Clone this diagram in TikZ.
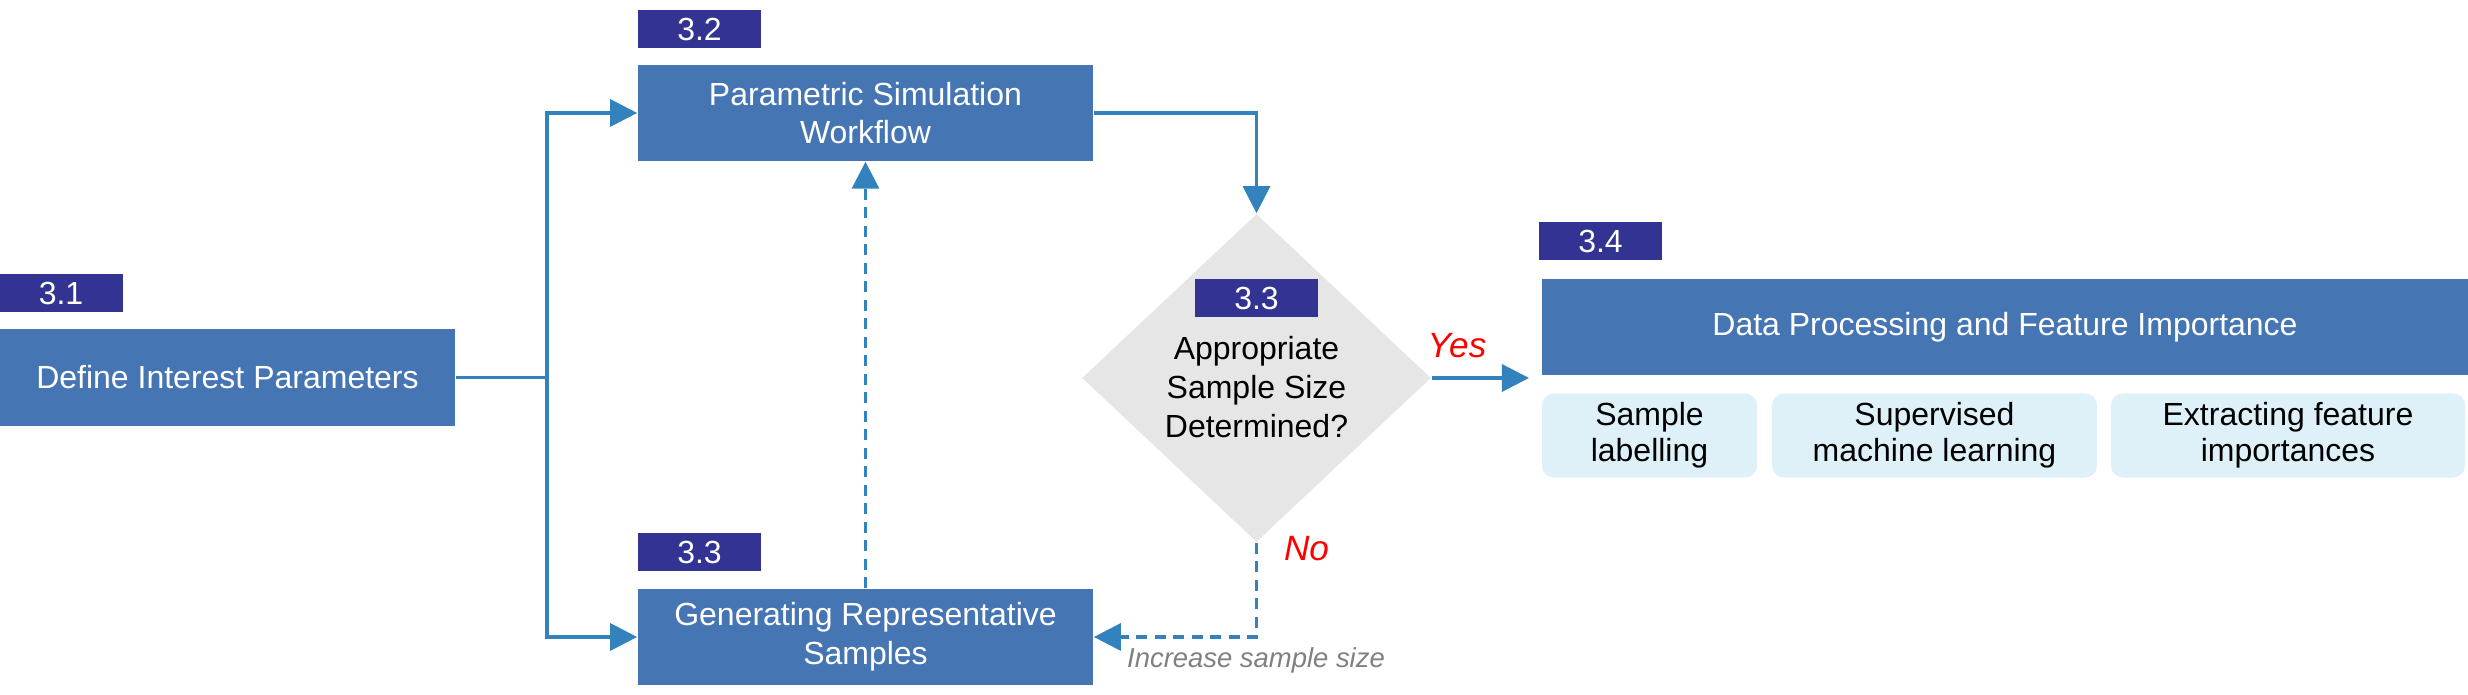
\documentclass[tikz,border=0pt]{standalone}
\usepackage{fontspec}
\setmainfont{Liberation Sans}
\usetikzlibrary{arrows.meta,shapes.geometric}

\definecolor{boxblue}{RGB}{70,117,180}
\definecolor{tagblue}{RGB}{51,51,147}
\definecolor{linkblue}{RGB}{49,130,189}
\definecolor{diagray}{RGB}{230,230,230}
\definecolor{subcyan}{RGB}{222,241,248}
\definecolor{notegray}{RGB}{128,128,128}

\tikzset{
  tag/.style={fill=tagblue, text=white, minimum width=1.23cm, minimum height=0.38cm, inner sep=0pt},
  stagebox/.style={fill=boxblue, text=white, align=center, minimum width=4.55cm, minimum height=0.96cm, inner sep=0pt},
  subbox/.style={fill=subcyan, rounded corners=1.2mm, align=center, minimum height=0.84cm, inner sep=0pt,
    font=\fontsize{9.1}{10.2}\selectfont},
  decision/.style={diamond, fill=diagray, minimum width=3.49cm, minimum height=3.28cm, inner sep=0pt},
  link/.style={draw=linkblue, line width=0.9pt, -{Triangle[length=2.7mm,width=2.7mm]}},
  answer/.style={text=red, font=\fontsize{10}{12}\selectfont\itshape, anchor=base}
}

\begin{document}
\begin{tikzpicture}[x=0.01cm, y=-0.01cm, font=\fontsize{9.1}{11}\selectfont]
  \useasboundingbox (0,0) rectangle (2468,695);

  % stage 3.1
  \node[tag] (t31) at (61,293) {3.1};
  \node[stagebox] (define) at (227.5,377.5) {Define Interest Parameters};

  % stage 3.2 and first 3.3
  \node[tag] (t32) at (699.5,29.5) {3.2};
  \node[stagebox] (param) at (865.5,113) {Parametric Simulation\\Workflow};
  \node[tag] (t33a) at (699.5,552) {3.3};
  \node[stagebox] (gen) at (865.5,637) {Generating Representative\\Samples};

  % decision
  \node[decision] (check) at (1256.5,378) {};
  \node[tag] (t33b) at (1256.5,298.5) {3.3};
  \node[align=center, inner sep=0pt] (checktext) at (1256.5,387) {Appropriate\\Sample Size\\Determined?};

  % stage 3.4
  \node[tag] (t34) at (1600.5,241.5) {3.4};
  \node[stagebox, minimum width=9.26cm] (data) at (2005,327) {Data Processing and Feature Importance};
  \node[subbox, minimum width=2.15cm] (label) at (1649.5,435.5) {Sample\\labelling};
  \node[subbox, minimum width=3.25cm] (learn) at (1934.5,435.5) {Supervised\\machine learning};
  \node[subbox, minimum width=3.54cm] (extract) at (2288,435.5) {Extracting feature\\importances};

  % connectors
  \coordinate (split) at (547,377.5);
  \coordinate (yesend) at (1529,378);
  \draw[link, -] (define.east) -- (split);
  \draw[link] (split) |- (param.west);
  \draw[link] (split) |- (gen.west);
  \draw[link] (param.east) -| (check.north);
  \draw[link, dash pattern=on 1.1mm off 0.75mm] (gen.north) -- (param.south);
  \draw[link, dash pattern=on 1.1mm off 0.75mm] (check.south) |- (gen.east);
  \draw[link] (check.east) -- (yesend);

  % answers
  \node[answer] (yes) at (1457,357.6) {Yes};
  \node[answer] (no) at (1306.5,560.4) {No};
  \node[text=notegray, font=\fontsize{7.8}{9}\selectfont\itshape, anchor=base] (more) at (1256,668) {Increase sample size};
\end{tikzpicture}
\end{document}
